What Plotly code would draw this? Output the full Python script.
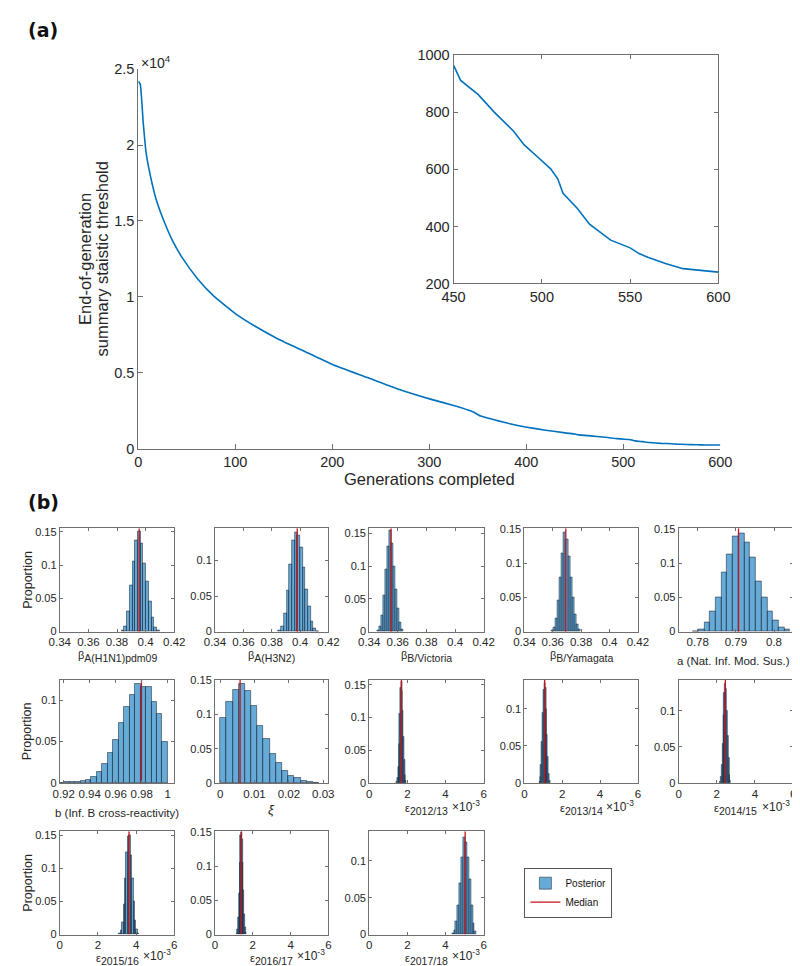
import plotly.graph_objects as go

W, H = 800, 966
FONT = "Liberation Sans, Arial, Helvetica, sans-serif"
AXC = "#707070"
TXT = "#262626"
LINE_BLUE = "#0072BD"
FACE = "rgba(0,114,189,0.6)"
EDGE = "rgba(28,38,52,0.9)"
RED = "#C0141C"

# ---------------- Panel (a) data ----------------
generations = [0, 2, 5, 8, 12, 18, 27, 36, 45, 61, 77, 100, 120, 144, 175, 200, 236, 266, 302, 325,
               340, 346, 353, 370, 384, 399, 420, 440, 450, 454, 464, 473, 484, 490, 497, 505, 509, 512,
               520, 527, 539, 550, 555, 560, 570, 580, 590, 600]
threshold = [24200, 24000, 21500, 19500, 18100, 16500, 14900, 13600, 12600, 11200, 10100, 8900, 8080,
             7230, 6300, 5550, 4690, 3970, 3250, 2850, 2550, 2400, 2150, 1850, 1630, 1430, 1220, 1040,
             965, 912, 862, 801, 734, 686, 647, 602, 567, 516, 464, 408, 352, 325, 305, 292, 270, 252,
             246, 240]
main_yticks = [0, 5000, 10000, 15000, 20000, 25000]
main_yticktext = ["0", "0.5", "1", "1.5", "2", "2.5"]
inset_xticks = [450, 500, 550, 600]
inset_yticks = [200, 400, 600, 800, 1000]

# ---------------- Panel (b) data ----------------
h1n1 = [0.002, 0.008, 0.03, 0.07, 0.105, 0.137, 0.151, 0.132, 0.102, 0.075, 0.046, 0.022, 0.006, 0.002]
h3n2 = [0.002, 0.008, 0.025, 0.058, 0.095, 0.128, 0.14, 0.135, 0.118, 0.09, 0.06, 0.035, 0.015, 0.005, 0.001]
victoria = [0.002, 0.008, 0.025, 0.055, 0.095, 0.13, 0.155, 0.135, 0.1, 0.065, 0.035, 0.014, 0.004]
yamagata = [0.002, 0.006, 0.02, 0.045, 0.08, 0.115, 0.145, 0.135, 0.11, 0.08, 0.05, 0.025, 0.01, 0.003]
a_nat = [0.001, 0.004, 0.013, 0.029, 0.05, 0.087, 0.113, 0.14, 0.143, 0.131, 0.109, 0.073, 0.05, 0.029,
         0.016, 0.006, 0.003]
b_cross = [0.0005, 0.001, 0.0015, 0.002, 0.003, 0.004, 0.007, 0.014, 0.023, 0.036, 0.052, 0.073, 0.092,
           0.107, 0.12, 0.116, 0.116, 0.098, 0.083, 0.05]
xi = [0.095, 0.118, 0.135, 0.144, 0.134, 0.112, 0.083, 0.064, 0.043, 0.029, 0.018, 0.011, 0.007, 0.004,
      0.002, 0.001]
eps1213 = [0.002, 0.008, 0.025, 0.06, 0.105, 0.145, 0.155, 0.14, 0.11, 0.07, 0.035, 0.012, 0.003]
eps1314 = [0.002, 0.008, 0.025, 0.055, 0.095, 0.125, 0.135, 0.128, 0.1, 0.065, 0.035, 0.012, 0.003]
eps1415 = [0.002, 0.008, 0.025, 0.055, 0.095, 0.125, 0.138, 0.13, 0.1, 0.065, 0.035, 0.012, 0.003]
eps1516 = [0.002, 0.006, 0.018, 0.045, 0.085, 0.125, 0.148, 0.15, 0.12, 0.085, 0.05, 0.022, 0.008, 0.002]
eps1617 = [0.002, 0.008, 0.025, 0.06, 0.105, 0.145, 0.15, 0.14, 0.105, 0.065, 0.03, 0.01, 0.003]
eps1718 = [0.002, 0.006, 0.018, 0.04, 0.07, 0.105, 0.132, 0.125, 0.105, 0.075, 0.04, 0.015, 0.004]

panel_props = [h1n1, h3n2, victoria, yamagata, a_nat, b_cross, xi,
               eps1213, eps1314, eps1415, eps1516, eps1617, eps1718]
bin_starts = [0.38315, 0.3847, 0.3455, 0.3587, 0.7787, 0.916, 0.0,
              0.00143, 0.0007775, 0.0021575, 0.003105, 0.00114, 0.00433]
bin_widths = [0.0019, 0.0019, 0.0014, 0.0015, 0.0015, 0.0042, 0.0018,
              0.00004, 0.000045, 0.000045, 0.000075, 0.00004, 0.0001]
medians = [0.3955, 0.398, 0.3553, 0.3692, 0.7907, 0.9798, 0.0058,
           0.00169, 0.00107, 0.00245, 0.00363, 0.0014, 0.00503]
y_tops = [0.155, 0.145, 0.1575, 0.151, 0.151, 0.1246, 0.15,
          0.1575, 0.139, 0.143, 0.156, 0.151, 0.14]
x_ranges = [[0.34, 0.42]] * 4 + [[0.775, 0.805], [0.917, 1.005], [-0.0015, 0.0315]] + [[0, 0.006]] * 6
beta_ticks = [0.34, 0.36, 0.38, 0.40, 0.42]
beta_ticktext = ["0.34", "0.36", "0.38", "0.4", "0.42"]
a_ticks = [0.78, 0.79, 0.80]
a_ticktext = ["0.78", "0.79", "0.8"]
b_ticks = [0.92, 0.94, 0.96, 0.98, 1.0]
b_ticktext = ["0.92", "0.94", "0.96", "0.98", "1"]
xi_ticks = [0, 0.01, 0.02, 0.03]
xi_ticktext = ["0", "0.01", "0.02", "0.03"]
eps_ticks = [0, 0.002, 0.004, 0.006]
eps_ticktext = ["0", "2", "4", "6"]
prop_ticks = [0, 0.05, 0.1, 0.15]
prop_ticktext = ["0", "0.05", "0.1", "0.15"]

def greek_sub(sym, sub):
    return '<span style="font-size:11px">%s</span><sub>%s</sub>' % (sym, sub)

param_labels = [greek_sub("β", "A(H1N1)pdm09"), greek_sub("β", "A(H3N2)"),
                greek_sub("β", "B/Victoria"), greek_sub("β", "B/Yamagata"),
                "a (Nat. Inf. Mod. Sus.)", "b (Inf. B cross-reactivity)", "<i>ξ</i>",
                greek_sub("ε", "2012/13"), greek_sub("ε", "2013/14"), greek_sub("ε", "2014/15"),
                greek_sub("ε", "2015/16"), greek_sub("ε", "2016/17"), greek_sub("ε", "2017/18")]

# ---------------- layout geometry (pixels) ----------------
col_px = [(41, 159), (201, 318), (360, 478), (520, 637), (679, 797)]
row_px = [(521, 626), (675, 780), (829, 934)]

def xdom(l, r):
    return [l / W, r / W]

def ydom(t, b):
    return [1 - b / H, 1 - t / H]

fig = go.Figure()
layout = dict(
    width=W, height=H, margin=dict(l=0, r=0, t=0, b=0),
    paper_bgcolor="white", plot_bgcolor="white",
    font=dict(family=FONT, color=TXT, size=12),
    showlegend=True,
    legend=dict(x=520 / W, y=1 - 866 / H, xanchor="left", yanchor="top",
                bordercolor="#555555", borderwidth=1, bgcolor="white",
                font=dict(size=10, color="#111111", family=FONT),
                itemwidth=30, tracegroupgap=0, traceorder="normal"),
    annotations=[],
)

# main axes
layout["xaxis"] = dict(domain=xdom(122, 722), range=[0, 600], tickvals=[0, 100, 200, 300, 400, 500, 600],
                       showline=True, linecolor=AXC, linewidth=1, ticks="inside", ticklen=5,
                       tickcolor=AXC, showgrid=False, zeroline=False, mirror=False,
                       tickfont=dict(size=14.5, color=TXT), anchor="y")
layout["yaxis"] = dict(domain=ydom(54, 440), range=[0, 25000], tickvals=main_yticks,
                       ticktext=main_yticktext, showline=True, linecolor=AXC, linewidth=1,
                       ticks="inside", ticklen=5, tickcolor=AXC, showgrid=False, zeroline=False,
                       tickfont=dict(size=14.5, color=TXT), anchor="x")
fig.add_trace(go.Scatter(x=generations, y=threshold, mode="lines",
                         line=dict(color=LINE_BLUE, width=1.6, shape="spline", smoothing=0.4),
                         xaxis="x", yaxis="y", showlegend=False, hoverinfo="skip"))

# inset
inset_g = [g for g in generations if g >= 450]
inset_v = [v for g, v in zip(generations, threshold) if g >= 450]
layout["xaxis2"] = dict(domain=xdom(447, 720), range=[450, 600], tickvals=inset_xticks,
                        showline=True, linecolor=AXC, linewidth=1, mirror="ticks", ticks="inside",
                        ticklen=4, tickcolor=AXC, showgrid=False, zeroline=False,
                        tickfont=dict(size=14.5, color=TXT), anchor="y2")
layout["yaxis2"] = dict(domain=ydom(40, 272), range=[200, 1000], tickvals=inset_yticks,
                        showline=True, linecolor=AXC, linewidth=1, mirror="ticks", ticks="inside",
                        ticklen=4, tickcolor=AXC, showgrid=False, zeroline=False,
                        tickfont=dict(size=14.5, color=TXT), anchor="x2")
fig.add_trace(go.Scatter(x=inset_g, y=inset_v, mode="lines",
                         line=dict(color=LINE_BLUE, width=1.6), xaxis="x2", yaxis="y2",
                         showlegend=False, hoverinfo="skip"))

ann = layout["annotations"]
ann.append(dict(text="<b>(a)</b>", x=6 / W, y=1 - 14 / H, xref="paper", yref="paper",
                xanchor="left", yanchor="middle", showarrow=False,
                font=dict(size=19, family="DejaVu Sans, sans-serif", color="#111")))
ann.append(dict(text="<b>(b)</b>", x=6 / W, y=1 - 494 / H, xref="paper", yref="paper",
                xanchor="left", yanchor="middle", showarrow=False,
                font=dict(size=19, family="DejaVu Sans, sans-serif", color="#111")))
ann.append(dict(text="×10<sup>4</sup>", x=123 / W, y=1 - 47 / H, xref="paper", yref="paper",
                xanchor="left", yanchor="middle", showarrow=False, font=dict(size=14, color=TXT)))
ann.append(dict(text="End-of-generation", x=67 / W, y=1 - 247 / H,
                xref="paper", yref="paper", textangle=-90, xanchor="center", yanchor="middle",
                showarrow=False, font=dict(size=16.5, color=TXT)))
ann.append(dict(text="summary staistic threshold", x=84 / W, y=1 - 247 / H,
                xref="paper", yref="paper", textangle=-90, xanchor="center", yanchor="middle",
                showarrow=False, font=dict(size=16.5, color=TXT)))
ann.append(dict(text="Generations completed", x=422 / W, y=1 - 471 / H, xref="paper", yref="paper",
                xanchor="center", yanchor="middle", showarrow=False, font=dict(size=16.5, color=TXT)))

# histograms
for i, props in enumerate(panel_props):
    row, col = divmod(i, 5)
    k = i + 3
    l, r = col_px[col]
    t, b = row_px[row]
    xa, ya = "x%d" % k, "y%d" % k
    w = bin_widths[i]
    centers = [bin_starts[i] + (j + 0.5) * w for j in range(len(props))]
    fig.add_trace(go.Bar(x=centers, y=props, width=w, xaxis=xa, yaxis=ya,
                         marker=dict(color=FACE, line=dict(color=EDGE, width=0.6)),
                         name="Posterior", showlegend=(i == 0), legendrank=1, hoverinfo="skip"))
    fig.add_trace(go.Scatter(x=[medians[i], medians[i]], y=[0, y_tops[i]], mode="lines",
                             line=dict(color=RED, width=1.3), xaxis=xa, yaxis=ya,
                             name="Median", showlegend=(i == 0), legendrank=2, hoverinfo="skip"))
    if i < 4:
        tv, tt = beta_ticks, beta_ticktext
    elif i == 4:
        tv, tt = a_ticks, a_ticktext
    elif i == 5:
        tv, tt = b_ticks, b_ticktext
    elif i == 6:
        tv, tt = xi_ticks, xi_ticktext
    else:
        tv, tt = eps_ticks, eps_ticktext
    ytv = [v for v in prop_ticks if v <= y_tops[i] + 1e-9]
    ytt = prop_ticktext[:len(ytv)]
    layout["xaxis%d" % k] = dict(domain=xdom(l, r), range=x_ranges[i], tickvals=tv, ticktext=tt,
                                 showline=True, linecolor=AXC, linewidth=1, mirror="ticks",
                                 ticks="inside", ticklen=3, tickcolor=AXC, showgrid=False,
                                 zeroline=False, tickfont=dict(size=11.5, color=TXT), anchor=ya)
    layout["yaxis%d" % k] = dict(domain=ydom(t, b), range=[0, y_tops[i]], tickvals=ytv, ticktext=ytt,
                                 showline=True, linecolor=AXC, linewidth=1, mirror="ticks",
                                 ticks="inside", ticklen=3, tickcolor=AXC, showgrid=False,
                                 zeroline=False, tickfont=dict(size=11, color=TXT), anchor=xa)
    # x label
    lab = param_labels[i]
    cx = (l + r) / 2
    if i < 4:
        off, fs = 25, 15
    elif i in (4, 5):
        off, fs = 30, 11.5
        if i == 4:
            cx -= 2
    elif i == 6:
        off, fs = 27, 13
    else:
        off, fs = (27 if row == 1 else 25), 15
    ann.append(dict(text=lab, x=cx / W, y=1 - (b + off) / H, xref="paper", yref="paper",
                    xanchor="center", yanchor="middle", showarrow=False,
                    font=dict(size=fs, color=TXT)))
    if i >= 7:
        eoff = 23 if row == 1 else 21
        ann.append(dict(text="×10<sup>-3</sup>", x=(r - 18) / W, y=1 - (b + eoff) / H,
                        xref="paper", yref="paper", xanchor="center", yanchor="middle",
                        showarrow=False, font=dict(size=12, color=TXT)))
    if col == 0:
        ann.append(dict(text="Proportion", x=8 / W, y=1 - (t + b) / 2 / H, xref="paper",
                        yref="paper", textangle=-90, xanchor="center", yanchor="middle",
                        showarrow=False, font=dict(size=12.5, color=TXT)))

fig.update_layout(**layout)
fig.update_layout(barmode="overlay", bargap=0)
fig.write_html("out.html")
